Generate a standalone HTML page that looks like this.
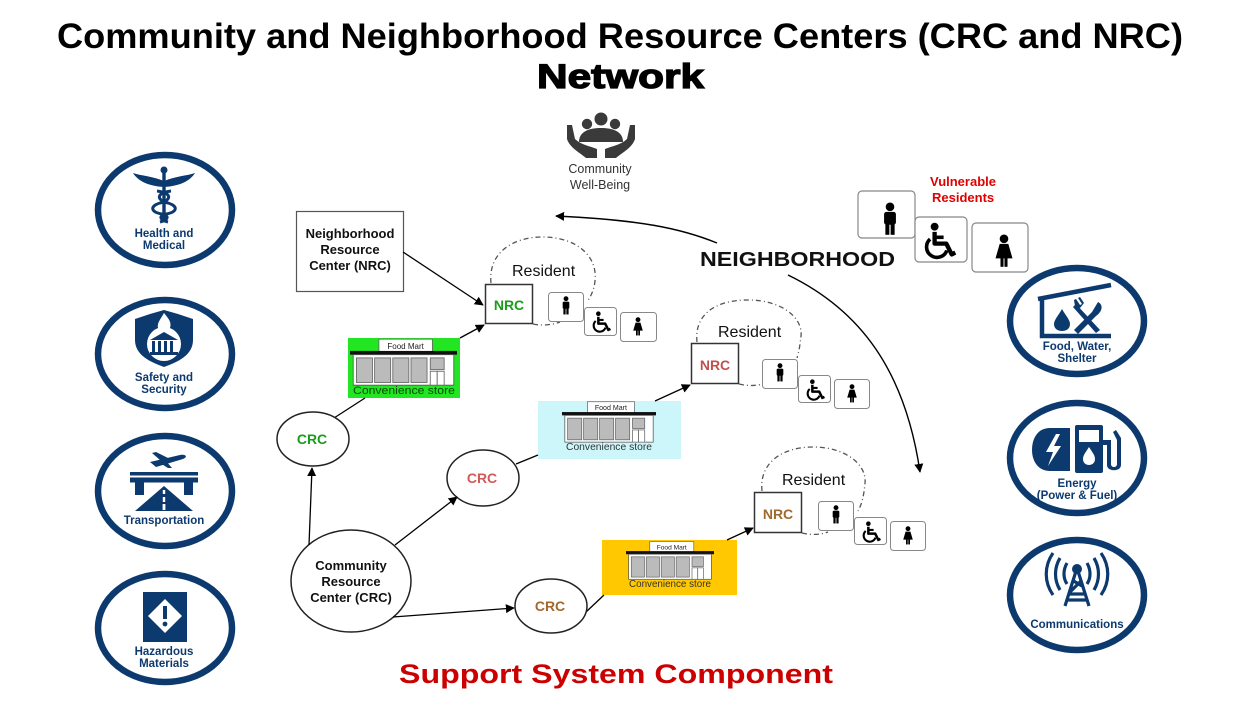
<!DOCTYPE html>
<html><head><meta charset="utf-8"><style>
html,body{margin:0;padding:0;background:#fff;}
svg{display:block;}
text{font-family:"Liberation Sans",Arial,sans-serif;}
</style></head><body>
<svg width="1240" height="706" viewBox="0 0 1240 706" xmlns="http://www.w3.org/2000/svg">
<defs>
<marker id="ah" viewBox="0 0 10 10" refX="9" refY="5" markerWidth="9" markerHeight="9" markerUnits="userSpaceOnUse" orient="auto">
<path d="M0,0 L10,5 L0,10 z" fill="#000"/></marker>
<g id="man"><circle cx="10" cy="3" r="2.7"/><rect x="6.3" y="6.2" width="7.4" height="8" rx="1.5"/><rect x="7.1" y="13" width="2.5" height="7.5"/><rect x="10.4" y="13" width="2.5" height="7.5"/></g>
<g id="woman"><circle cx="10" cy="3" r="2.7"/><path d="M7.3,6.2 h5.4 l2.6,9 h-10.6 z"/><rect x="7.8" y="14" width="1.9" height="6.5"/><rect x="10.3" y="14" width="1.9" height="6.5"/></g>
<g id="wc"><circle cx="7" cy="2.6" r="2.2"/><path d="M7,5.5 L7,12 L13.5,12 L16.5,18 L18.5,17" fill="none" stroke="#000" stroke-width="2.4" stroke-linejoin="round"/><path d="M7,8.5 L12,8.5" stroke="#000" stroke-width="2"/><path d="M4.5,9.5 A5.8,5.8 0 1 0 13.8,15.8" fill="none" stroke="#000" stroke-width="2"/></g>
<g id="store">
<rect x="27" y="-12" width="50" height="12" fill="#fff" stroke="#666" stroke-width="0.8"/>
<text x="52" y="-3" font-size="7.5" text-anchor="middle" fill="#222">Food Mart</text>
<rect x="0" y="-1" width="100" height="3.5" fill="#111"/>
<rect x="3" y="2.5" width="94" height="28.5" fill="#fff" stroke="#555" stroke-width="0.8"/>
<rect x="6" y="5.5" width="15" height="23" fill="#bbb" stroke="#666" stroke-width="0.8"/>
<rect x="23" y="5.5" width="15" height="23" fill="#bbb" stroke="#666" stroke-width="0.8"/>
<rect x="40" y="5.5" width="15" height="23" fill="#bbb" stroke="#666" stroke-width="0.8"/>
<rect x="57" y="5.5" width="15" height="23" fill="#bbb" stroke="#666" stroke-width="0.8"/>
<rect x="75" y="5.5" width="13" height="11" fill="#bbb" stroke="#666" stroke-width="0.8"/>
<rect x="75" y="18" width="6.5" height="13" fill="#fff" stroke="#666" stroke-width="0.8"/>
<rect x="81.5" y="18" width="6.5" height="13" fill="#fff" stroke="#666" stroke-width="0.8"/>
</g>
</defs>

<rect width="1240" height="706" fill="#fff"/>

<!-- Title -->
<text x="57" y="48" font-size="35" font-weight="bold" textLength="1126" lengthAdjust="spacingAndGlyphs" fill="#000">Community and Neighborhood Resource Centers (CRC and NRC)</text>
<text x="537" y="88" font-size="34" font-weight="bold" textLength="167" lengthAdjust="spacingAndGlyphs" fill="#000" stroke="#000" stroke-width="1.3">Network</text>

<!-- Left navy circles -->
<g fill="none" stroke="#0d3a6e" stroke-width="6.5">
<ellipse cx="165" cy="210" rx="67" ry="55"/>
<ellipse cx="165" cy="354" rx="67" ry="54"/>
<ellipse cx="165" cy="491" rx="67" ry="55"/>
<ellipse cx="165" cy="628" rx="67" ry="54"/>
<ellipse cx="1077" cy="321" rx="67" ry="53"/>
<ellipse cx="1077" cy="458" rx="67" ry="55"/>
<ellipse cx="1077" cy="595" rx="67" ry="55"/>
</g>

<g fill="#0d3a6e" font-weight="bold" font-size="11.5" text-anchor="middle">
<text x="164" y="237">Health and</text>
<text x="164" y="249">Medical</text>
<text x="164" y="381">Safety and</text>
<text x="164" y="393">Security</text>
<text x="164" y="524">Transportation</text>
<text x="164" y="655">Hazardous</text>
<text x="164" y="667">Materials</text>
<text x="1077" y="350">Food, Water,</text>
<text x="1077" y="362">Shelter</text>
<text x="1077" y="487">Energy</text>
<text x="1077" y="499">(Power &amp; Fuel)</text>
<text x="1077" y="628">Communications</text>
</g>

<!-- Caduceus -->
<g fill="#0d3a6e">
<path d="M164,181 C152,176 142,176 133,173 C138,181 148,186 164,187 z"/>
<path d="M164,181 C176,176 186,176 195,173 C190,181 180,186 164,187 z"/>
<rect x="162.3" y="170" width="3.4" height="52"/>
<circle cx="164" cy="170" r="3.5"/>
<path d="M157,191 C172,193 172,200 160,203 C150,206 150,212 162,214 C170,216 168,220 160,222" fill="none" stroke="#0d3a6e" stroke-width="3"/>
<path d="M171,191 C156,193 156,200 168,203 C178,206 178,212 166,214 C158,216 160,220 168,222" fill="none" stroke="#0d3a6e" stroke-width="3"/>
</g>

<!-- Shield -->
<g>
<path d="M135,319 L150,314 L164,310 L178,314 L193,319 L193,340 C193,355 178,362 164,367 C150,362 135,355 135,340 z" fill="#0d3a6e"/>
<path d="M164,313 C160,320 157,323 158,328 L170,328 C172,322 168,318 164,313 z" fill="#fff"/>
<circle cx="164" cy="344" r="17" fill="#fff"/>
<path d="M150,340 L164,332 L178,340 z" fill="#0d3a6e"/>
<rect x="152" y="341" width="3" height="11" fill="#0d3a6e"/>
<rect x="158" y="341" width="3" height="11" fill="#0d3a6e"/>
<rect x="164" y="341" width="3" height="11" fill="#0d3a6e"/>
<rect x="170" y="341" width="3" height="11" fill="#0d3a6e"/>
<rect x="150" y="352" width="28" height="3" fill="#0d3a6e"/>
</g>

<!-- Transportation -->
<g fill="#0d3a6e">
<path d="M150,462 L180,455 C186,454 188,457 183,459 L156,467 z"/>
<path d="M160,460 L152,453 L156,452 L168,458 z"/>
<path d="M166,461 L172,468 L168,468 L160,463 z"/>
<rect x="130" y="472" width="68" height="3.5"/>
<rect x="130" y="477.5" width="68" height="5"/>
<rect x="135" y="482" width="9" height="13"/>
<rect x="184" y="482" width="9" height="13"/>
<path d="M164,486 L193,511 L135,511 z"/>
<rect x="162.8" y="490" width="2.4" height="4" fill="#fff"/>
<rect x="162.8" y="497" width="2.4" height="5" fill="#fff"/>
<rect x="162.6" y="504" width="2.8" height="6" fill="#fff"/>
</g>

<!-- Hazardous barrel -->
<g>
<rect x="143" y="592" width="44" height="50" fill="#0d3a6e"/>
<path d="M165,599 L182,616 L165,633 L148,616 z" fill="#fff"/>
<rect x="163" y="606" width="4" height="13" fill="#0d3a6e"/>
<circle cx="165" cy="624" r="2.4" fill="#0d3a6e"/>
</g>

<!-- Food water shelter -->
<g fill="none" stroke="#0d3a6e" stroke-width="4.5">
<path d="M1038,299 L1111,285"/>
<path d="M1042,297 L1042,336 L1111,336"/>
</g>
<g fill="#0d3a6e">
<path d="M1062,309 C1058,316 1054,320 1054,324 C1054,329 1058,331 1062,331 C1066,331 1070,329 1070,324 C1070,320 1066,316 1062,309 z"/>
<path d="M1076,304 L1100,330 L1096,333 L1073,307 z"/>
<path d="M1098,302 C1104,305 1102,312 1096,316 L1078,334 L1074,330 L1092,312 z"/>
<path d="M1074,300 L1076,299 L1080,305 L1082,304 L1078,298 L1080,297 L1084,303 L1080,308 L1075,306 z"/>
</g>

<!-- Energy -->
<g fill="#0d3a6e">
<path d="M1050,428 L1070,428 L1070,471 L1050,471 C1038,471 1032,461 1032,450 C1032,438 1038,428 1050,428 z"/>
<path d="M1056,434 L1046,452 L1053,452 L1048,466 L1061,446 L1054,446 L1060,434 z" fill="#fff"/>
<rect x="1075" y="425" width="28" height="48" rx="2"/>
<rect x="1079" y="430" width="20" height="12" fill="#fff"/>
<path d="M1089,447 C1086,452 1083,455 1083,459 C1083,463 1086,465 1089,465 C1092,465 1095,463 1095,459 C1095,455 1092,452 1089,447 z" fill="#fff"/>
<path d="M1103,440 L1111,440 L1111,464 C1111,468 1117,468 1117,464 L1117,440 L1113,432 L1116,430 L1121,438 L1121,465 C1121,472 1107,472 1107,465 L1107,445 L1103,445 z"/>
</g>

<!-- Communications -->
<g fill="none" stroke="#0d3a6e" stroke-width="3.2">
<path d="M1077,568 L1065,606 M1077,568 L1089,606 M1069,594 L1085,594 M1067,600 L1087,600 M1072,580 L1082,586 M1082,580 L1070,592"/>
<path d="M1067,563 C1063,570 1063,578 1067,584"/>
<path d="M1060,558 C1054,568 1054,580 1060,590"/>
<path d="M1053,553 C1044,566 1044,582 1053,595"/>
<path d="M1087,563 C1091,570 1091,578 1087,584"/>
<path d="M1094,558 C1100,568 1100,580 1094,590"/>
<path d="M1101,553 C1110,566 1110,582 1101,595"/>
</g>
<circle cx="1077" cy="569" r="5" fill="#0d3a6e"/>

<!-- Community well-being icon -->
<g fill="#3a3a3a">
<circle cx="601" cy="119" r="6.5"/>
<circle cx="587" cy="124" r="5.2"/>
<circle cx="615" cy="124" r="5.2"/>
<path d="M579,142 C579,131 590,128 601,128 C612,128 623,131 623,142 z"/>
<path d="M567,125 L572,125 L575,139 C581,145 590,146 597,149 L597,158 L586,158 C579,152 570,148 567,139 z"/>
<path d="M635,125 L630,125 L627,139 C621,145 612,146 605,149 L605,158 L616,158 C623,152 632,148 635,139 z"/>
</g>
<text x="600" y="173" font-size="12.5" text-anchor="middle" fill="#333">Community</text>
<text x="600" y="189" font-size="12.5" text-anchor="middle" fill="#333">Well-Being</text>

<!-- Neighborhood -->
<text x="700" y="266" font-size="20" font-weight="bold" textLength="195" lengthAdjust="spacingAndGlyphs" fill="#111">NEIGHBORHOOD</text>
<path d="M717,243 C680,228 640,220 556,216" fill="none" stroke="#000" stroke-width="1.4" marker-end="url(#ah)"/>
<path d="M788,275 C860,310 905,370 920,472" fill="none" stroke="#000" stroke-width="1.4" marker-end="url(#ah)"/>

<text x="930" y="186" font-size="13" font-weight="bold" fill="#e00000">Vulnerable</text>
<text x="932" y="202" font-size="13" font-weight="bold" fill="#e00000">Residents</text>

<!-- big person boxes -->
<g fill="#fff" stroke="#888" stroke-width="1.2">
<rect x="858" y="191" width="57" height="47" rx="4"/>
<rect x="915" y="217" width="52" height="45" rx="4"/>
<rect x="972" y="223" width="56" height="49" rx="4"/>
</g>
<use href="#man" transform="translate(874,202) scale(1.6)"/>
<use href="#wc" transform="translate(922,222) scale(1.8)"/>
<use href="#woman" transform="translate(988,234) scale(1.6)"/>

<!-- NRC description box -->
<rect x="296.5" y="211.5" width="107" height="80" fill="#fff" stroke="#555" stroke-width="1.2"/>
<g font-size="13" font-weight="bold" text-anchor="middle" fill="#111">
<text x="350" y="238">Neighborhood</text>
<text x="350" y="254">Resource</text>
<text x="350" y="270">Center (NRC)</text>
</g>
<path d="M403,252 L483,305" stroke="#000" stroke-width="1.3" marker-end="url(#ah)"/>

<!-- dash-dot resident circles -->
<g fill="none" stroke="#555" stroke-width="1.3" stroke-dasharray="5 3 1 3">
<path d="M491,283 C488,255 510,237 543,237 C575,237 598,255 595,281 C594,290 591,296 587,302"/>
<path d="M533,324 C542,326 552,325 560,322"/>
<path d="M697,342 C694,314 716,300 748,300 C782,300 803,318 801,336 C800,345 799,352 797,358"/>
<path d="M739,384 C747,386 755,386 763,384"/>
<path d="M762,491 C759,463 782,447 813,447 C846,447 867,465 865,483 C864,495 862,504 858,511"/>
<path d="M802,533 C810,535 820,535 828,532"/>
</g>

<!-- NRC boxes -->
<rect x="485.5" y="284.5" width="47" height="39" fill="#fff" stroke="#333" stroke-width="1.5"/>
<text x="509" y="310" font-size="14" font-weight="bold" text-anchor="middle" fill="#1a9e1a">NRC</text>
<rect x="691.5" y="343.5" width="47" height="40" fill="#fff" stroke="#333" stroke-width="1.5"/>
<text x="715" y="370" font-size="14" font-weight="bold" text-anchor="middle" fill="#c0504d">NRC</text>
<rect x="754.5" y="492.5" width="47" height="40" fill="#fff" stroke="#333" stroke-width="1.5"/>
<text x="778" y="519" font-size="14" font-weight="bold" text-anchor="middle" fill="#a0692e">NRC</text>

<g font-size="16" fill="#111">
<text x="512" y="276">Resident</text>
<text x="718" y="337">Resident</text>
<text x="782" y="485">Resident</text>
</g>

<!-- small person boxes -->
<g fill="#fff" stroke="#888" stroke-width="1">
<rect x="548.5" y="292.5" width="35" height="29" rx="3"/>
<rect x="584.5" y="307.5" width="32" height="28" rx="3"/>
<rect x="620.5" y="312.5" width="36" height="29" rx="3"/>
<rect x="762.5" y="359.5" width="35" height="29" rx="3"/>
<rect x="798.5" y="375.5" width="32" height="27" rx="3"/>
<rect x="834.5" y="379.5" width="35" height="29" rx="3"/>
<rect x="818.5" y="501.5" width="35" height="29" rx="3"/>
<rect x="854.5" y="517.5" width="32" height="27" rx="3"/>
<rect x="890.5" y="521.5" width="35" height="29" rx="3"/>
</g>
<use href="#man" transform="translate(557,296) scale(0.9)"/>
<use href="#wc" transform="translate(591,311) scale(1.05)"/>
<use href="#woman" transform="translate(629,317) scale(0.9)"/>
<use href="#man" transform="translate(771,363) scale(0.9)"/>
<use href="#wc" transform="translate(805,379) scale(1.05)"/>
<use href="#woman" transform="translate(843,384) scale(0.9)"/>
<use href="#man" transform="translate(827,505) scale(0.9)"/>
<use href="#wc" transform="translate(861,521) scale(1.05)"/>
<use href="#woman" transform="translate(899,526) scale(0.9)"/>

<!-- Stores -->
<rect x="348" y="338" width="112" height="60" fill="#22e622"/>
<use href="#store" transform="translate(350,352) scale(1.07)"/>
<text x="404" y="394" font-size="11" text-anchor="middle" textLength="102" lengthAdjust="spacingAndGlyphs" fill="#0a4a0a">Convenience store</text>

<rect x="538" y="401" width="143" height="58" fill="#ccf6fa"/>
<use href="#store" transform="translate(562,413) scale(0.94)"/>
<text x="609" y="450" font-size="10" text-anchor="middle" textLength="86" lengthAdjust="spacingAndGlyphs" fill="#333">Convenience store</text>

<rect x="602" y="540" width="135" height="55" fill="#ffc800"/>
<use href="#store" transform="translate(626,552) scale(0.88)"/>
<text x="670" y="587" font-size="10" text-anchor="middle" textLength="82" lengthAdjust="spacingAndGlyphs" fill="#333">Convenience store</text>

<!-- store -> NRC arrows -->
<path d="M460,338 L484,325" stroke="#000" stroke-width="1.3" marker-end="url(#ah)"/>
<path d="M655,401 L690,385" stroke="#000" stroke-width="1.3" marker-end="url(#ah)"/>
<path d="M727,540 L753,528" stroke="#000" stroke-width="1.3" marker-end="url(#ah)"/>

<!-- CRC -> store lines -->
<path d="M365,398 L334,418" stroke="#000" stroke-width="1.3"/>
<path d="M516,464 L538,455" stroke="#000" stroke-width="1.3"/>
<path d="M586,612 L604,595" stroke="#000" stroke-width="1.3"/>

<!-- CRC circles -->
<g fill="#fff" stroke="#222" stroke-width="1.5">
<ellipse cx="313" cy="439" rx="36" ry="27"/>
<ellipse cx="483" cy="478" rx="36" ry="28"/>
<ellipse cx="551" cy="606" rx="36" ry="27"/>
<ellipse cx="351" cy="581" rx="60" ry="51"/>
</g>
<g font-size="14" font-weight="bold" text-anchor="middle">
<text x="312" y="444" fill="#1a9e1a">CRC</text>
<text x="482" y="483" fill="#d05a5a">CRC</text>
<text x="550" y="611" fill="#a0692e">CRC</text>
</g>
<g font-size="13" font-weight="bold" text-anchor="middle" fill="#111">
<text x="351" y="570">Community</text>
<text x="351" y="586">Resource</text>
<text x="351" y="602">Center (CRC)</text>
</g>

<!-- CRC arrows -->
<path d="M309,545 L312,468" stroke="#000" stroke-width="1.3" marker-end="url(#ah)"/>
<path d="M395,545 L457,497" stroke="#000" stroke-width="1.3" marker-end="url(#ah)"/>
<path d="M393,617 L514,608" stroke="#000" stroke-width="1.3" marker-end="url(#ah)"/>

<text x="399" y="683" font-size="27" font-weight="bold" textLength="434" lengthAdjust="spacingAndGlyphs" fill="#cc0000">Support System Component</text>
</svg>
</body></html>
